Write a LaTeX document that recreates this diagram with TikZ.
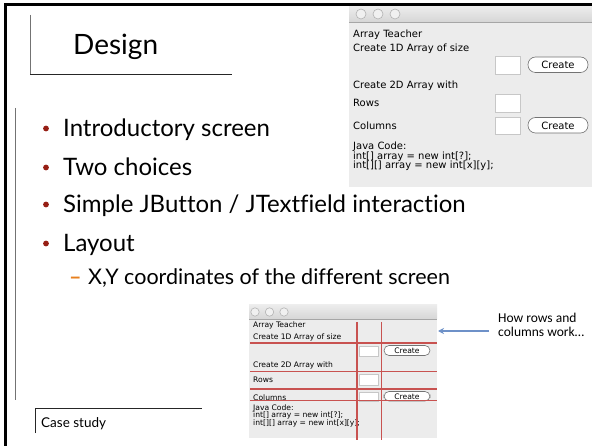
\documentclass[tikz,border=0pt]{standalone}
\usepackage{fontspec}
\setmainfont{Lato}[Ligatures=NoCommon]
\newfontfamily\uifont{DejaVu Sans}
\newfontfamily\calfont{Carlito}
\usetikzlibrary{arrows.meta}
\definecolor{bulletred}{RGB}{150,30,20}
\definecolor{dashorange}{RGB}{232,128,30}
\definecolor{wingray}{RGB}{236,236,236}
\definecolor{bargraytop}{RGB}{236,236,236}
\definecolor{bargraybot}{RGB}{214,214,214}
\definecolor{gridred}{RGB}{200,82,80}
\definecolor{arrowblue}{RGB}{110,145,200}
\tikzset{
  bigtxt/.style={anchor=base west, inner sep=0pt, font=\fontsize{24}{28}\selectfont},
  subtxt/.style={anchor=base west, inner sep=0pt, font=\fontsize{21.5}{25}\selectfont},
  uibig/.style={anchor=base west, inner sep=0pt, font=\uifont\fontsize{10}{11}\selectfont},
  uismall/.style={anchor=base west, inner sep=0pt, font=\uifont\fontsize{7.6}{8}\selectfont},
  tfield/.style={draw=black!22, fill=white, line width=0.6pt},
  btn/.style={draw=black!55, fill=white, line width=0.6pt},
  wincircle/.style={draw=black!30, fill=black!6, line width=0.6pt},
  gridline/.style={draw=gridred, line width=1.4pt},
  frameline/.style={line width=3pt, draw=black},
  bulletdot/.style={fill=bulletred},
}
\begin{document}
\begin{tikzpicture}[x=1pt,y=-1pt]
\useasboundingbox (0,0) rectangle (592,446);
\fill[white] (0,0) rectangle (592,446);

% ---- top window screenshot ----
\fill[wingray] (349,6.5) rectangle (592,187);
\shade[top color=bargraytop, bottom color=bargraybot] (349,6.5) rectangle (592,22);
\draw[black!35, line width=0.6pt] (349,22) -- (592,22);
\draw[wincircle] (361,14) circle (5);
\draw[wincircle] (378,14) circle (5);
\draw[wincircle] (395,14) circle (5);
\node[uibig] (t1) at (353,38) {Array Teacher};
\node[uibig] (t2) at (353,52) {Create 1D Array of size};
\node[uibig] (t3) at (353,89) {Create 2D Array with};
\node[uibig] (t4) at (353,107) {Rows};
\node[uibig] (t5) at (353,130) {Columns};
\node[uibig] (t6) at (353,150) {Java Code:};
\node[uibig] (t7) at (353,159.5) {int[] array = new int[?];};
\node[uibig] (t8) at (353,169) {int[][] array = new int[x][y];};
\draw[tfield] (495,56) rectangle (520,74);
\draw[tfield] (495,94) rectangle (520,112);
\draw[tfield] (495,117) rectangle (520,134);
\draw[btn, rounded corners=7.5pt] (528,57) rectangle (588,72.5);
\node[uibig, anchor=center] (b1) at (558,65) {Create};
\draw[btn, rounded corners=7.5pt] (528,117.5) rectangle (588,133);
\node[uibig, anchor=center] (b2) at (558,125.5) {Create};

% ---- slide frame ----
\draw[frameline] (5,446) -- (5,5) -- (592,5);

% ---- title ----
\draw[black!55, line width=0.8pt] (30,15) -- (30,74);
\draw[black!85, line width=0.8pt] (30,74) -- (232,74);
\node[anchor=base west, inner sep=0pt, font=\fontsize{28}{32}\selectfont] (title) at (73,55) {Design};

% ---- left rule ----
\draw[black!55, line width=1pt] (15,108) -- (15,400);

% ---- bullets ----
\fill[bulletdot] (46,128.5) circle (2.9);
\node[bigtxt] (i1) at (63,137) {Introductory screen};
\fill[bulletdot] (46,167.5) circle (2.9);
\node[bigtxt] (i2) at (63,176) {Two choices};
\fill[bulletdot] (46,204.5) circle (2.9);
\node[bigtxt] (i3) at (63,213) {Simple JButton / JTextfield interaction};
\fill[bulletdot] (46,243.5) circle (2.9);
\node[bigtxt] (i4) at (63,252) {Layout};
\node[subtxt, text=dashorange, font=\fontsize{21.5}{25}\selectfont\bfseries] (d1) at (69,285) {–};
\node[subtxt] (i5) at (88,285) {X,Y coordinates of the different screen};

% ---- bottom window screenshot ----
\fill[wingray] (249,305) rectangle (437,438);
\shade[top color=bargraytop, bottom color=bargraybot] (249,305) rectangle (437,319);
\draw[black!35, line width=0.5pt] (249,319) -- (437,319);
\draw[wincircle] (255,312) circle (4.2);
\draw[wincircle] (269.5,312) circle (4.2);
\draw[wincircle] (284,312) circle (4.2);
\node[uismall] (s1) at (253,328) {Array Teacher};
\node[uismall] (s2) at (253,340) {Create 1D Array of size};
\node[uismall] (s3) at (253,368) {Create 2D Array with};
\node[uismall] (s4) at (253,382) {Rows};
\node[uismall] (s5) at (253,400) {Columns};
\node[uismall] (s6) at (253,410) {Java Code:};
\node[uismall] (s7) at (253,417.5) {int[] array = new int[?];};
\node[uismall] (s8) at (253,425) {int[][] array = new int[x][y];};
\draw[tfield] (359,346) rectangle (378,356);
\draw[tfield] (359,374) rectangle (378,385);
\draw[tfield] (359,392) rectangle (378,401);
\draw[btn, rounded corners=5pt] (384,345.5) rectangle (430,355.5);
\node[uismall, anchor=center] (sb1) at (407,350.5) {Create};
\draw[btn, rounded corners=5pt] (384,391.5) rectangle (430,401);
\node[uismall, anchor=center] (sb2) at (407,396.3) {Create};
% red grid
\draw[gridline] (250,343) -- (437,343);
\draw[gridline] (250,371.5) -- (437,371.5);
\draw[gridline] (250,389) -- (437,389);
\draw[gridline] (250,400.5) -- (437,400.5);
\draw[gridline] (357,322) -- (357,440);
\draw[gridline] (381.5,322) -- (381.5,440);

% ---- annotation ----
\node[anchor=base west, inner sep=0pt, font=\calfont\fontsize{13.5}{16}\selectfont] (note) at (498,323) {How rows and};
\node[anchor=base west, inner sep=0pt, font=\calfont\fontsize{13.5}{16}\selectfont] (note2) at (498,336.5) {columns work…};
\coordinate (arrS) at (489,331);
\coordinate (arrE) at (438,331);
\draw[arrowblue, line width=1.4pt, -{Stealth[length=6pt,width=6pt]}] (arrS) -- (arrE);

% ---- case study ----
\draw[black!85, line width=0.8pt] (35,433) -- (35,408) -- (202,408);
\node[anchor=base west, inner sep=0pt, font=\fontsize{13.5}{16}\selectfont] (cs) at (41,427) {Case study};
\end{tikzpicture}
\end{document}
